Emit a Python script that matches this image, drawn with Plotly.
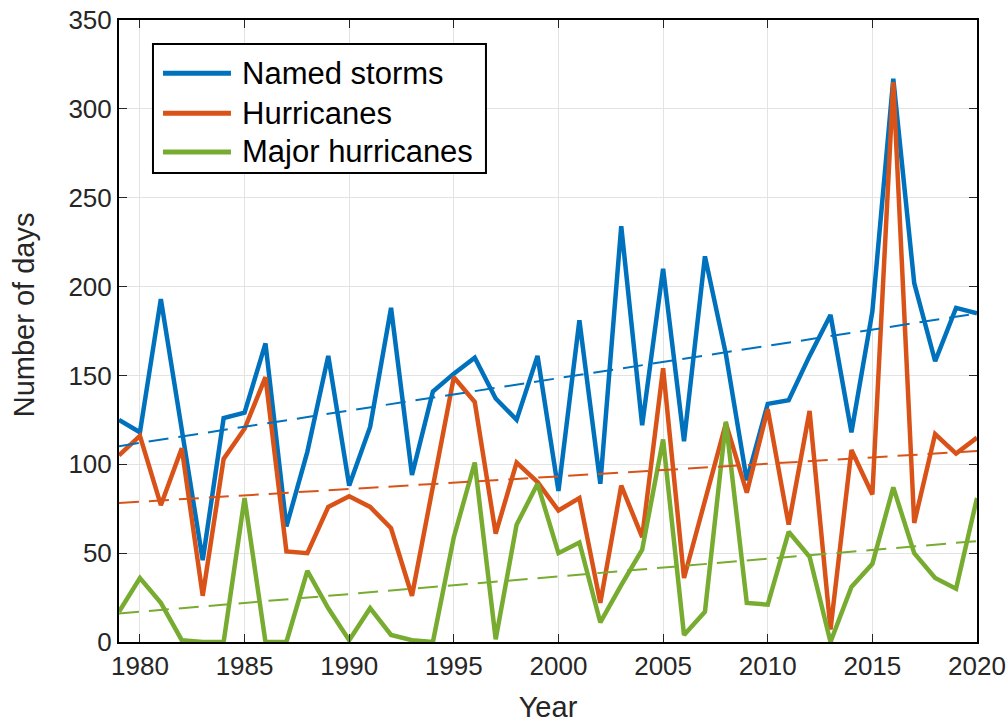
import numpy as np
import plotly.graph_objects as go

years = list(range(1979, 2021))

named_storms = [125, 118, 193, 120, 46, 126, 129, 168, 65, 107, 161, 88, 121, 188, 94,
                141, 151, 160, 137, 125, 161, 85, 181, 89, 234, 122, 210, 113, 217, 162,
                91, 134, 136, 161, 184, 118, 186, 317, 202, 158, 188, 185]
hurricanes = [105, 116, 77, 109, 26, 103, 120, 149, 51, 50, 76, 82, 76, 64, 26,
              87, 149, 135, 61, 101, 90, 74, 81, 22, 88, 59, 154, 36, 80, 123,
              84, 131, 66, 130, 7, 108, 83, 315, 67, 117, 106, 115]
major_hurricanes = [17, 36, 22, 1, 0, 0, 81, 0, 0, 40, 19, 1, 19, 4, 1,
                    0, 59, 101, 1.5, 66, 89, 50, 56, 11, 32, 52, 114, 4, 17, 124,
                    22, 21, 62, 48, 0, 31, 44, 87, 50, 36, 30, 81]

series_names = ["Named storms", "Hurricanes", "Major hurricanes"]
series_values = [named_storms, hurricanes, major_hurricanes]
colors = ["#0072BD", "#D95319", "#77AC30"]

x_ticks = [1980, 1985, 1990, 1995, 2000, 2005, 2010, 2015, 2020]
y_ticks = [0, 50, 100, 150, 200, 250, 300, 350]

fig = go.Figure()

yr = np.array(years, dtype=float)
for name, vals, col in zip(series_names, series_values, colors):
    fig.add_trace(go.Scatter(x=years, y=vals, mode="lines", name=name,
                             line=dict(color=col, width=4.5)))

for name, vals, col in zip(series_names, series_values, colors):
    slope, icpt = np.polyfit(yr, np.array(vals, dtype=float), 1)
    fit = slope * yr + icpt
    fig.add_trace(go.Scatter(x=years, y=fit, mode="lines", showlegend=False,
                             line=dict(color=col, width=2, dash="20px,10px"),
                             hoverinfo="skip"))

font_family = "Liberation Sans, Arial, Helvetica, sans-serif"

# legend drawn as a box with line samples and labels (paper coordinates)
shapes = [dict(type="rect", xref="paper", yref="paper",
               x0=0.0396, x1=0.4277, y0=0.7542, y1=0.9614,
               line=dict(color="black", width=2), fillcolor="white", layer="above")]
annotations = []
row_y = [0.9145, 0.8502, 0.7879]
for name, col, ry in zip(series_names, colors, row_y):
    shapes.append(dict(type="line", xref="paper", yref="paper",
                       x0=0.0513, x1=0.1305, y0=ry, y1=ry,
                       line=dict(color=col, width=5), layer="above"))
    annotations.append(dict(xref="paper", yref="paper", x=0.1410, y=ry,
                            xanchor="left", yanchor="middle", showarrow=False,
                            text=name, font=dict(size=31, color="black", family=font_family)))

# y-axis title
annotations.append(dict(xref="paper", yref="paper", x=-0.1107, y=0.5253,
                        xanchor="center", yanchor="middle", showarrow=False,
                        textangle=-90, text="Number of days",
                        font=dict(size=29, color="#262626", family=font_family)))

fig.update_layout(
    width=1008, height=723,
    margin=dict(l=119, r=31, t=20, b=81, autoexpand=False),
    paper_bgcolor="white", plot_bgcolor="white",
    font=dict(family=font_family, color="#262626", size=26),
    showlegend=False,
    shapes=shapes,
    annotations=annotations,
    xaxis=dict(
        range=[1979, 2020], tickvals=x_ticks, ticktext=[str(t) for t in x_ticks],
        showgrid=True, gridcolor="#e3e3e3", gridwidth=1,
        showline=True, linecolor="black", linewidth=2, mirror="ticks",
        ticks="inside", ticklen=8, tickwidth=1, tickcolor="#262626",
        tickfont=dict(size=26, color="#262626"), automargin=False,
        title=dict(text="Year", font=dict(size=29, color="#262626"), standoff=18),
        zeroline=False,
    ),
    yaxis=dict(
        range=[0, 350], tickvals=y_ticks, ticktext=[str(t) for t in y_ticks],
        showgrid=True, gridcolor="#e3e3e3", gridwidth=1,
        showline=True, linecolor="black", linewidth=2, mirror="ticks",
        ticks="inside", ticklen=8, tickwidth=1, tickcolor="#262626",
        tickfont=dict(size=26, color="#262626"), automargin=False,
        zeroline=False,
    ),
)

fig.write_html(
    "out.html",
    config={"displayModeBar": False},
    post_script="document.body.style.margin='0';document.body.style.overflow='hidden';",
)
